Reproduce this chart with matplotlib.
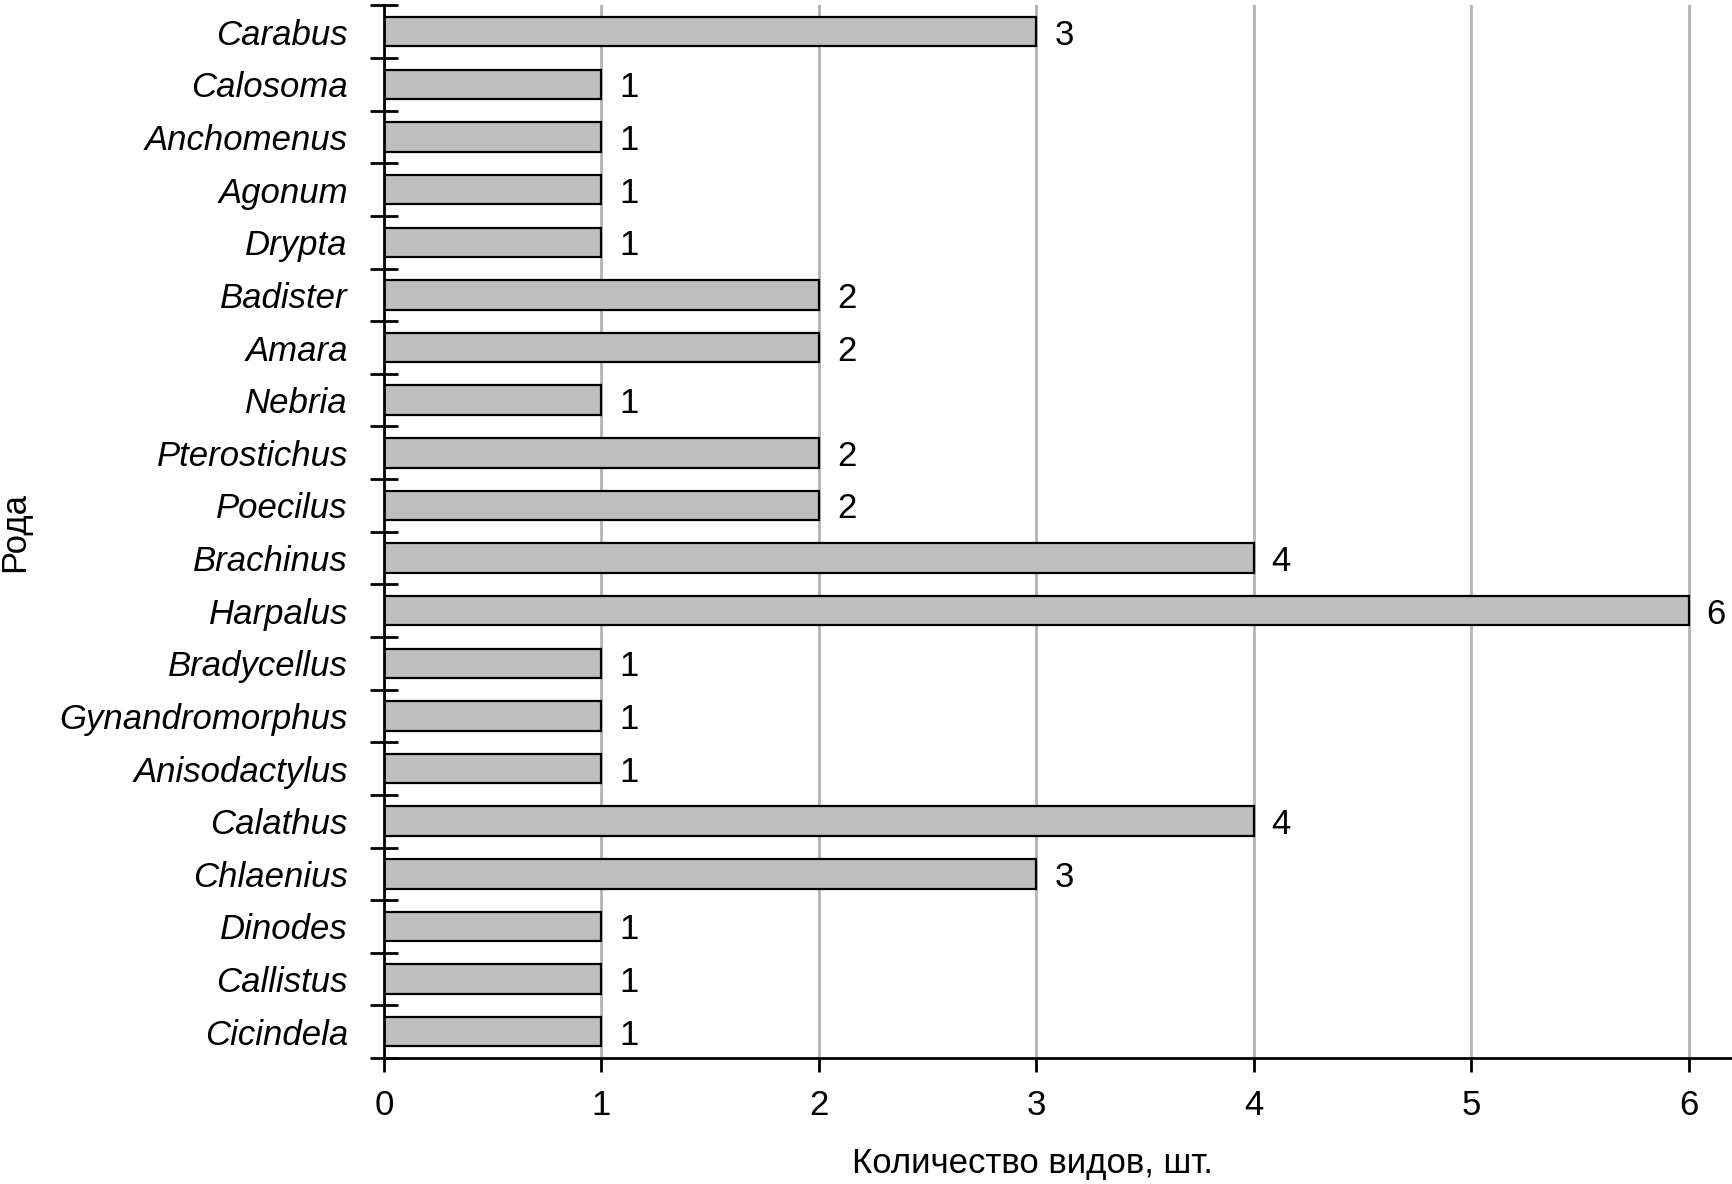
import numpy as np
from matplotlib import pyplot as plt
from matplotlib.ticker import FixedLocator

plt.rcParams['font.family'] = ['Liberation Sans', 'DejaVu Sans']

# genera, top to bottom
genera = ['Carabus', 'Calosoma', 'Anchomenus', 'Agonum', 'Drypta', 'Badister',
          'Amara', 'Nebria', 'Pterostichus', 'Poecilus', 'Brachinus', 'Harpalus',
          'Bradycellus', 'Gynandromorphus', 'Anisodactylus', 'Calathus',
          'Chlaenius', 'Dinodes', 'Callistus', 'Cicindela']
species_count = [3, 1, 1, 1, 1, 2, 2, 1, 2, 2, 4, 6, 1, 1, 1, 4, 3, 1, 1, 1]
x_ticks = [0, 1, 2, 3, 4, 5, 6]

FS = 25

fig = plt.figure(figsize=(17.32, 11.84), dpi=100)
ax = fig.add_axes([0.2217, 0.1064, 0.7783, 0.889])

pos = np.arange(len(genera))
ax.barh(pos, species_count, height=0.56, color='#bebebe', edgecolor='black',
        linewidth=1.6, zorder=3)

for p, v in zip(pos, species_count):
    ax.annotate(str(v), xy=(v, p), xytext=(13, 0), textcoords='offset points',
                va='center_baseline', ha='left', fontsize=FS)

ax.set_xlim(0, 6.2)
ax.set_ylim(len(genera) - 0.5, -0.5)

ax.set_xticks(x_ticks)
ax.set_xticklabels([str(t) for t in x_ticks], fontsize=FS)
ax.set_yticks(pos)
ax.set_yticklabels(genera, fontsize=FS, style='italic')
ax.yaxis.set_minor_locator(FixedLocator(np.arange(len(genera) + 1) - 0.5))

ax.tick_params(axis='y', which='major', length=0, pad=26)
ax.tick_params(axis='y', which='minor', direction='inout', length=20, width=2)
ax.tick_params(axis='x', which='major', direction='out', length=10, width=2,
               pad=12)

ax.grid(axis='x', color='#b4b4b4', linewidth=2, zorder=0)
ax.set_axisbelow(True)

for s in ['top', 'right']:
    ax.spines[s].set_visible(False)
for s in ['left', 'bottom']:
    ax.spines[s].set_linewidth(2)
    ax.spines[s].set_zorder(4)

ax.set_xlabel('Количество видов, шт.', fontsize=FS)
ax.xaxis.set_label_coords(0.481, -0.085)
ax.set_ylabel('Рода', fontsize=FS)
ax.yaxis.set_label_coords(-0.262, 0.5)

fig.savefig('out.png', dpi=100)
